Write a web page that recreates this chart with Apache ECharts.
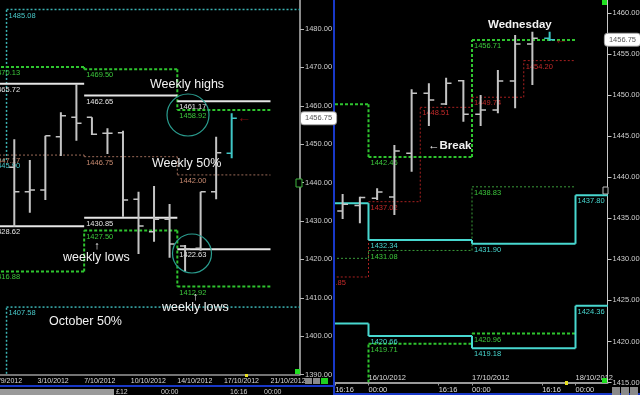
<!DOCTYPE html>
<html><head><meta charset="utf-8">
<script src="https://cdn.jsdelivr.net/npm/echarts@6/dist/echarts.min.js"></script>
<style>html,body{margin:0;padding:0;background:#000;}#c{width:640px;height:395px;}</style>
</head><body><div id="c"></div>
<script>
// ================= LEFT PANEL: daily bars =================
const leftDates = ['30/9/2012','1/10/2012','2/10/2012','3/10/2012','4/10/2012','5/10/2012','7/10/2012','8/10/2012','9/10/2012','10/10/2012','11/10/2012','12/10/2012','14/10/2012','15/10/2012','16/10/2012','17/10/2012','18/10/2012','19/10/2012','21/10/2012','22/10/2012'];
const leftLabelDates = ['30/9/2012','3/10/2012','7/10/2012','10/10/2012','14/10/2012','17/10/2012','21/10/2012'];
const leftOpen  = [null,1444.00,1437.63,1438.07,1451.95,1457.00,1457.00,1452.84,1453.00,1435.65,1427.21,1430.44,1423.50,1422.90,1437.63,1447.63];
const leftHigh  = [null,1451.28,1445.89,1452.21,1458.31,1465.68,1457.00,1454.14,1453.52,1437.63,1439.10,1434.43,1423.75,1437.63,1451.95,1458.05];
const leftLow   = [null,1428.52,1432.16,1435.47,1446.93,1450.91,1452.40,1447.45,1431.12,1421.41,1424.60,1420.40,1416.80,1422.27,1435.65,1446.33];
const leftClose = [null,1437.63,1438.07,1452.21,1457.42,1455.44,1452.58,1452.84,1435.47,1428.70,1430.44,1424.00,1422.70,1437.63,1447.79,1456.75];
const leftTicks = [1390,1400,1410,1420,1430,1440,1450,1460,1470,1480];

// weekly levels
const weekStart = ['30/9/2012','7/10/2012','14/10/2012'];
const weekEnd   = ['7/10/2012','14/10/2012','21/10/2012'];
const weekHigh  = [1465.72,1462.65,1461.17];
const weekLow   = [1428.62,1430.85,1422.63];
const weekMid   = [1447.17,1446.75,1442.00];
const refHigh   = [1470.13,1469.50,1458.92];
const refLow    = [1416.88,1427.50,1412.92];
// monthly levels
const monthStart = ['30/9/2012','1/10/2012'];
const monthHigh  = [1445.90,1485.08];
const monthMid   = [1385.00,1407.58];

const currentPrice = 1456.75;

// ================= RIGHT PANEL: 4-hour bars =================
const rightBarTimes = ['15/10 16:00','15/10 20:00','16/10 00:00','16/10 04:00','16/10 08:00','16/10 12:00','16/10 16:00','16/10 20:00','17/10 00:00','17/10 04:00','17/10 08:00','17/10 12:00','17/10 16:00'];
const rightOpen  = [1435.90,1436.55,1437.43,1437.60,1442.91,1450.22,1448.92,1451.76,1447.66,1448.19,1451.72,1456.22,1456.92];
const rightHigh  = [1437.95,1437.62,1438.65,1443.92,1450.71,1451.44,1452.12,1451.84,1450.00,1453.06,1457.32,1457.72,1457.72];
const rightLow   = [1434.90,1434.38,1437.22,1435.40,1440.67,1446.24,1448.80,1446.76,1446.24,1447.78,1448.39,1451.23,1456.60];
const rightClose = [1436.70,1437.53,1438.20,1443.20,1450.22,1449.40,1451.44,1447.66,1448.19,1451.72,1456.22,1456.92,1456.75];
const rightTickTimes = ['15/10 16:16','16/10 00:00','16/10 16:16','17/10 00:00','17/10 16:16','18/10 00:00'];
const rightDayLabels = ['16/10/2012','17/10/2012','18/10/2012'];
const rightTicks = [1415,1420,1425,1430,1435,1440,1445,1450,1455,1460];

const dayStart   = ['15/10/2012','16/10/2012','17/10/2012','18/10/2012','19/10/2012'];
const dayHi      = [1436.82,1432.34,1431.90,1437.80];
const dayLo      = [1422.20,1420.66,1419.18,1424.36];
const prevDayHi  = [1448.88,1442.46,1456.71];
const prevDayLo  = [1411.36,1419.71,1420.96];
const prevDayMid = [1430.12,1431.08,1438.83];
const halfStart  = ['15/10 12:00','16/10 00:00','16/10 12:00','17/10 00:00','17/10 12:00','18/10 00:00'];
const halfMid    = [1427.85,1437.02,1448.51,1449.74,1454.20];

// ================= helpers =================
const FONT = '"Liberation Sans", Arial, sans-serif';
const li = d => leftDates.indexOf(d);
const hrs = s => { const p = s.split(' '); const dd = +p[0].split('/')[0]; const t = (p[1] || '00:00').split(':'); return (dd - 16) * 24 + (+t[0]) + (+t[1]) / 60; };

function segs(starts, ends, vals) {
  return vals.map((v, i) => [starts[i], ends[i], v, i > 0 ? vals[i - 1] : null]);
}

function levelSeries(xi, data, stroke, lw, dash, labelColor, connect) {
  return {
    type: 'custom', xAxisIndex: xi, yAxisIndex: xi, clip: true, silent: true, z: 2,
    dimensions: ['s', 'e', 'v', 'p'], encode: { x: [0, 1], y: 2 },
    data: data,
    renderItem: function (params, api) {
      const s = api.value(0), e = api.value(1), v = api.value(2), p = api.value(3);
      const a = api.coord([s, v]), b = api.coord([e, v]);
      const st = { stroke: stroke, lineWidth: lw, lineDash: dash, fill: null };
      const ch = [{ type: 'line', shape: { x1: a[0], y1: a[1], x2: b[0], y2: b[1] }, style: st }];
      if (connect && p != null && !isNaN(p)) {
        const q = api.coord([s, p]);
        ch.push({ type: 'line', shape: { x1: a[0], y1: q[1], x2: a[0], y2: a[1] }, style: st });
      }
      if (labelColor) ch.push({ type: 'text', x: a[0] + 2, y: a[1] + 2,
        style: { text: v.toFixed(2), fill: labelColor, font: '7.5px ' + FONT, align: 'left', verticalAlign: 'top' } });
      return { type: 'group', children: ch };
    }
  };
}

function ohlcSeries(xi, data, tick) {
  return {
    type: 'custom', xAxisIndex: xi, yAxisIndex: xi, clip: true, silent: true, z: 3,
    dimensions: ['x', 'o', 'h', 'l', 'c', 'cur'], encode: { x: 0, y: [1, 2, 3, 4] },
    data: data,
    renderItem: function (params, api) {
      const x = api.value(0);
      const pO = api.coord([x, api.value(1)]), pH = api.coord([x, api.value(2)]);
      const pL = api.coord([x, api.value(3)]), pC = api.coord([x, api.value(4)]);
      const w = api.size([tick, 0])[0];
      const col = api.value(5) ? '#3fc6c6' : '#c4c4c4';
      return { type: 'group', children: [
        { type: 'line', shape: { x1: pH[0], y1: pH[1], x2: pL[0], y2: pL[1] }, style: { stroke: col, lineWidth: 2 } },
        { type: 'line', shape: { x1: pO[0] - w, y1: pO[1], x2: pO[0], y2: pO[1] }, style: { stroke: col, lineWidth: 1.5 } },
        { type: 'line', shape: { x1: pC[0], y1: pC[1], x2: pC[0] + w, y2: pC[1] }, style: { stroke: col, lineWidth: 1.5 } }
      ] };
    }
  };
}

// left data
const leftBarData = [];
for (let i = 0; i < leftHigh.length; i++) {
  if (leftHigh[i] == null) continue;
  leftBarData.push([i, leftOpen[i], leftHigh[i], leftLow[i], leftClose[i], i === leftHigh.length - 1 ? 1 : 0]);
}
const wS = weekStart.map(d => li(d) - 0.5), wE = weekEnd.map(d => li(d) - 0.5);
const mS = monthStart.map(d => li(d) - 0.5);
const mE = mS.map((v, i) => i < mS.length - 1 ? mS[i + 1] : leftDates.length - 0.5);
const whiteSegs = weekHigh.map((v, i) => [wS[i], wE[i], v, null]).concat(weekLow.map((v, i) => [wS[i], wE[i], v, null]));

// right data
const rightBarData = rightBarTimes.map((t, k) => [hrs(t) + 2, rightOpen[k], rightHigh[k], rightLow[k], rightClose[k], k === rightBarTimes.length - 1 ? 1 : 0]);
const dS = dayStart.map(d => hrs(d));
const hS = halfStart.map(d => hrs(d));

const leftLabelVals = leftLabelDates.map(d => li(d) - 0.5);
const rightTickVals = rightTickTimes.map(hrs);
const rightDayVals = rightDayLabels.map(d => hrs(d));

function axisLabelY() {
  return { color: '#cfcfcf', fontSize: 7.5, fontFamily: FONT, margin: 5, showMinLabel: true, showMaxLabel: false,
    formatter: v => Number(v).toFixed(2) };
}
function curPointer() {
  return { show: true, type: 'none', value: currentPrice, status: 'show', triggerTooltip: false,
    label: { show: true, formatter: p => Number(p.value).toFixed(2), backgroundColor: '#ffffff', color: '#555',
      fontSize: 7.5, fontFamily: FONT, padding: [2, 4, 2, 4], borderColor: '#999', borderWidth: 1, margin: 1 } };
}

const chart = echarts.init(document.getElementById('c'), null, { renderer: 'canvas' });
chart.setOption({
  backgroundColor: '#000',
  animation: false,
  grid: [
    { left: -9, top: 0, width: 309, height: 374.6, outerBoundsMode: 'none', containLabel: false },
    { left: 334, top: 0, width: 273.5, height: 382.5, outerBoundsMode: 'none', containLabel: false }
  ],
  xAxis: [
    { type: 'value', gridIndex: 0, position: 'bottom', min: -0.5, max: 19.4, splitLine: { show: false },
      axisLine: { onZero: false, lineStyle: { color: '#9a9a9a', width: 1.5 } }, axisTick: { show: false },
      axisLabel: { customValues: leftLabelVals, align: 'left', margin: 3, color: '#dcdcdc', fontSize: 7, fontFamily: FONT,
        showMinLabel: true, showMaxLabel: true, formatter: v => leftDates[Math.round(v + 0.5)] } },
    { type: 'value', gridIndex: 1, position: 'bottom', min: -8, max: 55.42, splitLine: { show: false },
      axisLine: { onZero: false, lineStyle: { color: '#9a9a9a', width: 2 } },
      axisTick: { show: true, customValues: rightTickVals, length: 3, lineStyle: { color: '#9a9a9a' } },
      axisLabel: { customValues: rightTickVals, align: 'left', margin: 3, color: '#dcdcdc', fontSize: 7.5, fontFamily: FONT,
        showMinLabel: true, showMaxLabel: true,
        formatter: v => { const i = rightTickVals.findIndex(t => Math.abs(t - v) < 1e-6); return i >= 0 ? rightTickTimes[i].split(' ')[1] : ''; } } },
    { type: 'value', gridIndex: 1, position: 'bottom', offset: 0, min: -8, max: 55.42, splitLine: { show: false },
      axisLine: { show: false, onZero: false }, axisTick: { show: false },
      axisLabel: { customValues: rightDayVals, inside: true, align: 'left', margin: 1, color: '#dcdcdc', fontSize: 7.5, fontFamily: FONT,
        showMinLabel: true, showMaxLabel: true,
        formatter: v => { const i = rightDayVals.findIndex(t => Math.abs(t - v) < 1e-6); return i >= 0 ? rightDayLabels[i] : ''; } } }
  ],
  yAxis: [
    { type: 'value', gridIndex: 0, position: 'right', min: leftTicks[0], max: 1487.55, interval: 10, splitLine: { show: false },
      axisLine: { show: true, onZero: false, lineStyle: { color: '#b8b8b8', width: 1.5 } },
      axisTick: { show: true, length: 4, lineStyle: { color: '#b8b8b8' } }, axisLabel: axisLabelY(),
      axisPointer: curPointer() },
    { type: 'value', gridIndex: 1, position: 'right', min: rightTicks[0], max: 1461.58, interval: 5, splitLine: { show: false },
      axisLine: { show: true, onZero: false, lineStyle: { color: '#c8c8c8', width: 1 } },
      axisTick: { show: true, length: 4, lineStyle: { color: '#c8c8c8' } }, axisLabel: axisLabelY(),
      axisPointer: curPointer() }
  ],
  series: [
    // left levels
    levelSeries(0, segs(mS, mE, monthHigh), '#3cb4b4', 1.5, [2, 2], '#48c8c8', true),
    levelSeries(0, segs(mS, mE, monthMid), '#3cb4b4', 1.5, [2, 2], '#48c8c8', true),
    levelSeries(0, segs(wS, wE, weekMid), '#9a6a58', 1, [2, 2], '#c88a70', true),
    levelSeries(0, segs(wS, wE, refHigh), '#2fc42f', 2, [3, 2], '#3cc83c', true),
    levelSeries(0, segs(wS, wE, refLow), '#2fc42f', 2, [3, 2], '#3cc83c', true),
    levelSeries(0, whiteSegs, '#e6e6e6', 2, null, '#e6e6e6', false),
    ohlcSeries(0, leftBarData, 0.33),
    { type: 'scatter', xAxisIndex: 0, yAxisIndex: 0, silent: true, symbolSize: 1, itemStyle: { color: 'transparent' },
      data: [[leftHigh.length - 1, currentPrice]],
      label: { show: true, position: 'right', distance: 5, formatter: '\u2190', color: '#a01818', fontSize: 14, fontWeight: 'bold', fontFamily: FONT } },
    // right levels
    levelSeries(1, segs(hS.slice(0, -1), hS.slice(1), halfMid), '#a82020', 1, [2, 2], '#c42a2a', true),
    levelSeries(1, segs(dS.slice(0, 3), dS.slice(1, 4), prevDayMid), '#3a9a3a', 1, [2, 2], '#3cc83c', true),
    levelSeries(1, segs(dS.slice(0, 3), dS.slice(1, 4), prevDayHi), '#2fc42f', 2, [3, 2], '#3cc83c', true),
    levelSeries(1, segs(dS.slice(0, 3), dS.slice(1, 4), prevDayLo), '#2fc42f', 2, [3, 2], '#3cc83c', true),
    levelSeries(1, segs(dS.slice(0, 4), dS.slice(1, 5), dayHi), '#48d8d0', 2, null, '#48d8d0', true),
    levelSeries(1, segs(dS.slice(0, 4), dS.slice(1, 5), dayLo), '#48d8d0', 2, null, '#48d8d0', true),
    ohlcSeries(1, rightBarData, 1.25),
    { type: 'scatter', xAxisIndex: 1, yAxisIndex: 1, silent: true, symbolSize: 1, itemStyle: { color: 'transparent' },
      data: [[rightBarData[rightBarData.length - 1][0], currentPrice]],
      label: { show: true, position: 'right', distance: 4, formatter: '\u2190', color: '#a01818', fontSize: 14, fontWeight: 'bold', fontFamily: FONT } }
  ],
  graphic: [
    { type: 'line', shape: { x1: 334, y1: 0, x2: 334, y2: 395 }, style: { stroke: '#1838c8', lineWidth: 2 }, z: 10 },
    { type: 'line', shape: { x1: 0, y1: 386, x2: 334, y2: 386 }, style: { stroke: '#1838c8', lineWidth: 2 }, z: 10 },
    { type: 'line', shape: { x1: 334, y1: 394, x2: 640, y2: 394 }, style: { stroke: '#1838c8', lineWidth: 2 }, z: 10 },
    { type: 'rect', shape: { x: 0, y: 389, width: 114, height: 6 }, style: { fill: '#9a9a9a' }, z: 10 },
    { type: 'text', x: 116, y: 392, style: { text: '£12', fill: '#d0d0d0', font: '7px ' + FONT, verticalAlign: 'middle' }, z: 10 },
    { type: 'text', x: 161, y: 392, style: { text: '00:00', fill: '#d0d0d0', font: '7px ' + FONT, verticalAlign: 'middle' }, z: 10 },
    { type: 'text', x: 230, y: 392, style: { text: '16:16', fill: '#d0d0d0', font: '7px ' + FONT, verticalAlign: 'middle' }, z: 10 },
    { type: 'text', x: 264, y: 392, style: { text: '00:00', fill: '#d0d0d0', font: '7px ' + FONT, verticalAlign: 'middle' }, z: 10 },
    // circles
    { type: 'circle', shape: { cx: 188, cy: 115, r: 21 }, style: { stroke: '#2a9d8f', fill: null, lineWidth: 1.2 }, z: 10 },
    { type: 'circle', shape: { cx: 192, cy: 253.5, r: 19.5 }, style: { stroke: '#2a9d8f', fill: null, lineWidth: 1.2 }, z: 10 },
    // annotations
    { type: 'text', x: 150, y: 85, style: { text: 'Weekly highs', fill: '#f2f2f2', font: '12.5px ' + FONT, verticalAlign: 'middle' }, z: 11 },
    { type: 'text', x: 152, y: 164, style: { text: 'Weekly 50%', fill: '#f2f2f2', font: '12.5px ' + FONT, verticalAlign: 'middle' }, z: 11 },
    { type: 'text', x: 97, y: 246, style: { text: '\u2191', fill: '#f2f2f2', font: 'bold 11px ' + FONT, align: 'center', verticalAlign: 'middle' }, z: 11 },
    { type: 'text', x: 63, y: 257.5, style: { text: 'weekly lows', fill: '#f2f2f2', font: '12.5px ' + FONT, verticalAlign: 'middle' }, z: 11 },
    { type: 'text', x: 195.5, y: 297, style: { text: '\u2191', fill: '#f2f2f2', font: 'bold 11px ' + FONT, align: 'center', verticalAlign: 'middle' }, z: 11 },
    { type: 'text', x: 162, y: 308, style: { text: 'weekly lows', fill: '#f2f2f2', font: '12.5px ' + FONT, verticalAlign: 'middle' }, z: 11 },
    { type: 'text', x: 49, y: 321.5, style: { text: 'October 50%', fill: '#f2f2f2', font: '12.5px ' + FONT, verticalAlign: 'middle' }, z: 11 },
    { type: 'text', x: 488, y: 25, style: { text: 'Wednesday', fill: '#f2f2f2', font: 'bold 11.5px ' + FONT, verticalAlign: 'middle' }, z: 11 },
    { type: 'text', x: 428, y: 146, style: { text: '\u2190Break', fill: '#f2f2f2', font: 'bold 11.5px ' + FONT, verticalAlign: 'middle' }, z: 11 },
    // small UI markers
    { type: 'rect', shape: { x: 295, y: 369, width: 5, height: 5 }, style: { fill: '#20e020' }, z: 10 },
    { type: 'rect', shape: { x: 602, y: 0, width: 5, height: 5 }, style: { fill: '#20e020' }, z: 10 },
    { type: 'rect', shape: { x: 602, y: 378, width: 5, height: 5 }, style: { fill: '#20e020' }, z: 10 },
    { type: 'rect', shape: { x: 296, y: 179, width: 6, height: 8 }, style: { fill: '#000', stroke: '#3cb43c', lineWidth: 1 }, z: 10 },
    { type: 'rect', shape: { x: 603, y: 187, width: 5, height: 7 }, style: { fill: '#000', stroke: '#bbbbbb', lineWidth: 1 }, z: 10 },
    { type: 'rect', shape: { x: 245, y: 374, width: 3, height: 3 }, style: { fill: '#e8e020' }, z: 10 },
    { type: 'rect', shape: { x: 565, y: 381, width: 3, height: 4 }, style: { fill: '#e8e020' }, z: 10 },
    { type: 'rect', shape: { x: 305, y: 378, width: 7, height: 6 }, style: { fill: '#8a8a8a' }, z: 10 },
    { type: 'rect', shape: { x: 313, y: 378, width: 7, height: 6 }, style: { fill: '#8a8a8a' }, z: 10 },
    { type: 'rect', shape: { x: 321, y: 378, width: 7, height: 6 }, style: { fill: '#20d020' }, z: 10 },
    { type: 'rect', shape: { x: 612, y: 387, width: 8, height: 8 }, style: { fill: '#8a8a8a' }, z: 10 },
    { type: 'rect', shape: { x: 621, y: 387, width: 8, height: 8 }, style: { fill: '#8a8a8a' }, z: 10 },
    { type: 'rect', shape: { x: 630, y: 387, width: 8, height: 8 }, style: { fill: '#8a8a8a' }, z: 10 }
  ]
});
</script></body></html>
